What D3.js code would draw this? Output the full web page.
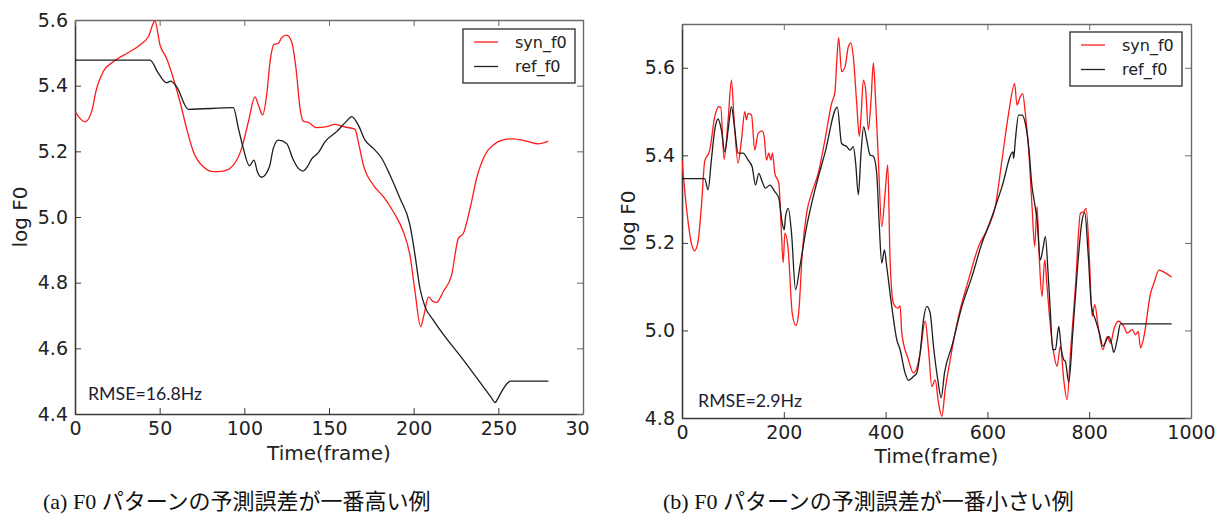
<!DOCTYPE html>
<html>
<head>
<meta charset="utf-8">
<script src="https://cdn.jsdelivr.net/npm/d3@7"></script>
<style>
  body { margin: 0; background: #ffffff; }
  svg { display: block; }
</style>
</head>
<body>
<svg id="chart" width="1227" height="520"></svg>
<script>
// ---- (a) largest prediction error: synthesized vs reference log F0 ----
const synA_frame = [0, 5.9, 9.8, 12.8, 16.7, 22.6, 30.5, 38.4, 43.3, 47.2, 50.2, 54.1, 58.1, 62.0, 65.9, 69.9,
  75.8, 81.7, 87.6, 93.5, 98.4, 102.4, 106.3, 108.3, 110.8, 113.2, 115.2, 117.5, 120.1, 122.0, 125.0, 127.9,
  130.5, 132.9, 134.8, 137.8, 142.7, 148.6, 153.5, 158.5, 165.4, 167.3, 170.3, 176.2, 182.1, 188.0, 193.9,
  197.8, 200.8, 204.1, 206.1, 208.7, 211.6, 213.6, 217.5, 222.4, 226.4, 229.3, 233.3, 237.2, 242.1, 247.0,
  252.9, 258.9, 266.7, 273.6, 279.5];
const synA_logf0 = [5.321, 5.290, 5.321, 5.392, 5.443, 5.473, 5.498, 5.524, 5.549, 5.597, 5.524, 5.483, 5.422,
  5.351, 5.270, 5.199, 5.153, 5.138, 5.140, 5.158, 5.209, 5.290, 5.366, 5.341, 5.311, 5.372, 5.473, 5.526,
  5.529, 5.546, 5.554, 5.534, 5.453, 5.331, 5.292, 5.288, 5.272, 5.275, 5.282, 5.275, 5.267, 5.229, 5.158,
  5.097, 5.062, 5.016, 4.955, 4.884, 4.773, 4.666, 4.702, 4.757, 4.742, 4.740, 4.773, 4.823, 4.935, 4.950,
  5.026, 5.118, 5.189, 5.219, 5.235, 5.238, 5.231, 5.223, 5.231];

const refA_frame = [0, 44.3, 49.2, 54.1, 56.5, 60.0, 66.9, 93.5, 96.5, 99.4, 103.0, 105.7, 107.7, 110.2, 114.8,
  117.1, 120.1, 125.0, 128.5, 131.9, 134.8, 137.2, 139.8, 143.7, 147.6, 154.5, 160.4, 163.4, 167.3, 171.3,
  176.2, 181.1, 186.0, 191.9, 197.8, 200.8, 203.7, 206.7, 211.6, 230.0, 246.0, 248.0, 250.0, 251.9, 257.3, 279.5];
const refA_logf0 = [5.478, 5.478, 5.438, 5.409, 5.414, 5.397, 5.328, 5.333, 5.270, 5.209, 5.156, 5.173, 5.138,
  5.121, 5.153, 5.209, 5.234, 5.224, 5.179, 5.148, 5.140, 5.153, 5.177, 5.196, 5.229, 5.260, 5.292, 5.306,
  5.280, 5.234, 5.209, 5.179, 5.128, 5.057, 4.976, 4.884, 4.783, 4.727, 4.686, 4.560, 4.449, 4.435, 4.450,
  4.468, 4.500, 4.500];

// ---- (b) smallest prediction error ----
const synB_frame = [0, 8.5, 18.4, 24.9, 31.5, 38.1, 44.6, 54.5, 64.3, 72.2, 76.1, 82.7, 90.6, 97.1, 102.4, 110.2,
  116.8, 123.4, 126.6, 129.9, 136.5, 143.0, 149.6, 157.5, 161.4, 166.0, 170.6, 174.5, 177.8, 182.4, 190.3,
  194.2, 198.8, 202.1, 208.7, 216.5, 223.8, 229.7, 236.2, 244.8, 254.6, 267.7, 280.8, 294.0, 300.5, 303.8,
  307.7, 313.6, 320.2, 326.8, 332.0, 336.6, 343.2, 348.4, 351.7, 356.3, 360.9, 366.1, 371.4, 376.0, 380.6,
  385.8, 392.4, 399.0, 404.2, 408.8, 415.4, 423.9, 428.5, 431.8, 444.9, 454.7, 461.3, 467.8, 477.7, 484.3,
  490.8, 497.4, 504.0, 510.5, 517.1, 526.9, 543.3, 563.0, 582.7, 602.4, 615.5, 628.6, 641.7, 653.5, 658.1,
  664.7, 669.3, 674.5, 681.1, 687.7, 692.9, 697.5, 702.1, 707.3, 712.6, 717.2, 723.8, 730.3, 736.9, 743.4,
  750.0, 756.6, 763.1, 773.0, 782.8, 789.4, 794.0, 800.5, 805.8, 811.0, 817.6, 826.8, 835.3, 841.9, 848.4,
  857.0, 868.1, 874.7, 884.5, 891.1, 896.3, 900.9, 907.5, 920.6, 927.2, 937.0, 950.1, 961.9];
const synB_logf0 = [5.389, 5.283, 5.199, 5.182, 5.203, 5.283, 5.386, 5.412, 5.488, 5.511, 5.510, 5.391, 5.481,
  5.572, 5.481, 5.382, 5.435, 5.500, 5.481, 5.496, 5.492, 5.412, 5.450, 5.456, 5.443, 5.389, 5.405, 5.389,
  5.405, 5.359, 5.336, 5.252, 5.155, 5.222, 5.184, 5.040, 5.011, 5.047, 5.176, 5.268, 5.313, 5.359, 5.435,
  5.519, 5.545, 5.610, 5.669, 5.591, 5.602, 5.648, 5.657, 5.625, 5.519, 5.443, 5.488, 5.572, 5.549, 5.458,
  5.526, 5.611, 5.519, 5.389, 5.237, 5.313, 5.378, 5.161, 5.062, 5.051, 5.056, 4.994, 4.933, 4.903, 4.914,
  4.948, 5.021, 4.956, 4.872, 4.887, 4.834, 4.804, 4.865, 4.933, 5.032, 5.116, 5.192, 5.237, 5.283, 5.389,
  5.496, 5.564, 5.515, 5.534, 5.541, 5.496, 5.412, 5.283, 5.192, 5.283, 5.161, 5.078, 5.161, 5.100, 5.009,
  4.948, 4.918, 4.964, 4.887, 4.842, 4.948, 5.100, 5.268, 5.271, 5.279, 5.161, 5.032, 5.059, 5.009, 4.956,
  4.986, 4.971, 5.002, 5.021, 5.009, 4.994, 5.002, 4.990, 4.998, 4.960, 4.986, 5.085, 5.108, 5.138, 5.131,
  5.122];

const refB_frame = [0, 44.6, 51.2, 57.7, 64.3, 70.9, 77.4, 84.0, 90.6, 97.1, 103.7, 110.2, 120.1, 129.9, 137.8,
  144.4, 150.9, 157.5, 164.0, 172.6, 182.4, 190.3, 196.9, 200.8, 203.4, 208.7, 215.2, 223.1, 231.6, 244.8,
  261.2, 280.8, 305.1, 313.6, 323.5, 330.1, 336.6, 341.2, 346.5, 351.7, 356.9, 362.9, 369.4, 376.0, 382.5,
  387.1, 392.4, 397.6, 402.2, 412.1, 421.9, 428.5, 438.3, 444.9, 454.7, 461.3, 467.8, 474.4, 481.0, 487.5,
  494.1, 502.6, 509.2, 515.7, 530.2, 549.9, 569.6, 589.2, 608.9, 628.6, 650.3, 651.6, 654.9, 661.4, 668.0,
  674.5, 681.1, 687.7, 692.9, 697.5, 704.1, 708.7, 713.9, 719.2, 723.8, 728.3, 733.6, 740.2, 745.4, 750.0,
  753.3, 759.8, 767.7, 776.2, 786.1, 791.3, 797.9, 804.5, 812.3, 820.2, 826.8, 838.6, 843.8, 848.4, 855.0,
  861.5, 961.9];
const refB_logf0 = [5.347, 5.347, 5.321, 5.389, 5.458, 5.483, 5.458, 5.408, 5.458, 5.511, 5.458, 5.405, 5.405,
  5.389, 5.374, 5.332, 5.359, 5.340, 5.325, 5.332, 5.317, 5.302, 5.245, 5.230, 5.260, 5.279, 5.222, 5.093,
  5.146, 5.237, 5.321, 5.405, 5.510, 5.427, 5.420, 5.412, 5.420, 5.382, 5.310, 5.405, 5.465, 5.435, 5.401,
  5.398, 5.359, 5.252, 5.154, 5.184, 5.146, 5.055, 4.979, 4.956, 4.903, 4.886, 4.895, 4.903, 4.948, 5.024,
  5.055, 5.040, 4.964, 4.887, 4.846, 4.903, 4.964, 5.055, 5.123, 5.199, 5.260, 5.328, 5.408, 5.393, 5.435,
  5.492, 5.492, 5.473, 5.420, 5.328, 5.290, 5.252, 5.161, 5.184, 5.214, 5.131, 5.040, 4.956, 4.956, 5.009,
  4.956, 4.933, 4.929, 4.881, 4.994, 5.131, 5.252, 5.269, 5.176, 5.055, 5.024, 4.994, 4.964, 4.986, 4.971,
  4.950, 4.979, 5.015, 5.015];

// ---- tick values and text ----
const xTicksA = [0, 50, 100, 150, 200, 250, 300];
const yTicksA = [4.4, 4.6, 4.8, 5.0, 5.2, 5.4, 5.6];
const xTicksB = [0, 200, 400, 600, 800, 1000];
const yTicksB = [4.8, 5.0, 5.2, 5.4, 5.6];
const seriesNames = ["syn_f0", "ref_f0"];
const rmseLabels = ["RMSE=16.8Hz", "RMSE=2.9Hz"];
const captions = ["(a) F0 パターンの予測誤差が一番高い例", "(b) F0 パターンの予測誤差が一番小さい例"];

const zip = (xs, ys) => xs.map((x, i) => [x, ys[i]]);

const svg = d3.select("#chart");
const defs = svg.append("defs");

const SYN_COLOR = "#ff1a1a";
const REF_COLOR = "#1e1e1e";
const SPINE_DARK = "#3a3a3a";
const SPINE_LIGHT = "#6a6a6a";

function drawPanel(opt) {
  const root = svg.append("g");
  if (opt.clipRight) {
    defs.append("clipPath").attr("id", opt.id + "-outer")
      .append("rect").attr("x", 0).attr("y", 0).attr("width", opt.clipRight).attr("height", 475);
    root.attr("clip-path", `url(#${opt.id}-outer)`);
  }
  const x = d3.scaleLinear().domain(opt.xDomain).range(opt.xRange);
  const y = d3.scaleLinear().domain(opt.yDomain).range(opt.yRange);
  const [x0, x1] = opt.xRange;
  const [y0, y1] = opt.yRange; // y0 bottom, y1 top

  // plot-area clip for the curves
  defs.append("clipPath").attr("id", opt.id + "-plot")
    .append("rect").attr("x", x0).attr("y", y1).attr("width", x1 - x0).attr("height", y0 - y1);

  const fmtY = d3.format(".1f");
  const tickFont = (sel) => sel.selectAll("text")
    .attr("font-family", "'DejaVu Sans', sans-serif").attr("font-size", 19).attr("fill", "#222");

  // bottom axis (labels) with inward ticks
  const gb = root.append("g").attr("transform", `translate(0,${y0})`)
    .call(d3.axisBottom(x).tickValues(opt.xTicks).tickSize(-6).tickSizeOuter(0).tickPadding(8).tickFormat(d3.format("d")));
  gb.call(tickFont);
  // left axis
  const gl = root.append("g").attr("transform", `translate(${x0},0)`)
    .call(d3.axisLeft(y).tickValues(opt.yTicks).tickSize(-6).tickSizeOuter(0).tickPadding(7).tickFormat(fmtY));
  gl.call(tickFont);
  // top and right: ticks only
  const gt = root.append("g").attr("transform", `translate(0,${y1})`)
    .call(d3.axisTop(x).tickValues(opt.xTicks).tickSize(-6).tickSizeOuter(0).tickFormat(""));
  const gr = root.append("g").attr("transform", `translate(${x1},0)`)
    .call(d3.axisRight(y).tickValues(opt.yTicks).tickSize(-6).tickSizeOuter(0).tickFormat(""));

  [gb, gl].forEach(g => {
    g.select(".domain").attr("stroke", SPINE_DARK).attr("stroke-width", 1.6);
    g.selectAll(".tick line").attr("stroke", SPINE_DARK).attr("stroke-width", 1);
  });
  [gt, gr].forEach(g => {
    g.select(".domain").attr("stroke", SPINE_LIGHT).attr("stroke-width", 1.4);
    g.selectAll(".tick line").attr("stroke", SPINE_LIGHT).attr("stroke-width", 1);
  });

  // curves
  const line = d3.line().x(d => x(d[0])).y(d => y(d[1])).curve(d3.curveMonotoneX);
  const plot = root.append("g").attr("clip-path", `url(#${opt.id}-plot)`);
  plot.append("path").datum(opt.syn).attr("d", line)
    .attr("fill", "none").attr("stroke", SYN_COLOR).attr("stroke-width", 1.3).attr("stroke-linejoin", "round");
  plot.append("path").datum(opt.ref).attr("d", line)
    .attr("fill", "none").attr("stroke", REF_COLOR).attr("stroke-width", 1.3).attr("stroke-linejoin", "round");

  // axis titles
  root.append("text").attr("x", (x0 + x1) / 2).attr("y", opt.xTitleY)
    .attr("text-anchor", "middle").attr("font-family", "'DejaVu Sans', sans-serif")
    .attr("font-size", 20).attr("fill", "#222").text("Time(frame)");
  root.append("text")
    .attr("transform", `translate(${opt.yTitleX},${(y0 + y1) / 2}) rotate(-90)`)
    .attr("text-anchor", "middle").attr("font-family", "'DejaVu Sans', sans-serif")
    .attr("font-size", 20).attr("fill", "#222").text("log F0");

  // legend
  const lg = root.append("g").attr("transform", `translate(${opt.legend[0]},${opt.legend[1]})`);
  lg.append("rect").attr("x", 0).attr("y", 0).attr("width", 112).attr("height", 54)
    .attr("fill", "#fff").attr("stroke", "#2a2a2a").attr("stroke-width", 1.3);
  const legendColors = [SYN_COLOR, REF_COLOR];
  seriesNames.forEach((name, i) => {
    const yy = 13 + i * 24.5;
    lg.append("line").attr("x1", 11).attr("x2", 35).attr("y1", yy).attr("y2", yy)
      .attr("stroke", legendColors[i]).attr("stroke-width", 1.3);
    lg.append("text").attr("x", 52).attr("y", yy + 5.5)
      .attr("font-family", "'DejaVu Sans', sans-serif").attr("font-size", 16).attr("fill", "#222").text(name);
  });

  // RMSE annotation
  root.append("text").attr("x", opt.rmse[0]).attr("y", opt.rmse[1])
    .attr("font-family", "Lato, 'Open Sans', sans-serif").attr("font-size", 17)
    .attr("fill", "#1b1b33").attr("textLength", opt.rmse[2]).attr("lengthAdjust", "spacingAndGlyphs")
    .text(opt.rmseText);
}

drawPanel({
  id: "pa", xDomain: [0, 300], yDomain: [4.4, 5.6], xRange: [75, 583], yRange: [414, 20],
  xTicks: xTicksA, yTicks: yTicksA, clipRight: 589,
  syn: zip(synA_frame, synA_logf0), ref: zip(refA_frame, refA_logf0),
  xTitleY: 460, yTitleX: 27, legend: [463, 29], rmse: [88, 400, 114], rmseText: rmseLabels[0]
});

drawPanel({
  id: "pb", xDomain: [0, 1000], yDomain: [4.8, 5.7], xRange: [682, 1191], yRange: [418, 24],
  xTicks: xTicksB, yTicks: yTicksB, clipRight: null,
  syn: zip(synB_frame, synB_logf0), ref: zip(refB_frame, refB_logf0),
  xTitleY: 463, yTitleX: 635, legend: [1070, 32], rmse: [698, 407, 104], rmseText: rmseLabels[1]
});

// sub-figure captions
const capX = [43, 663];
captions.forEach((c, i) => {
  svg.append("text").attr("x", capX[i]).attr("y", 509)
    .attr("font-family", "'Liberation Serif', 'Noto Sans CJK JP', serif")
    .attr("font-size", 22).attr("fill", "#111").text(c);
});
</script>
</body>
</html>
